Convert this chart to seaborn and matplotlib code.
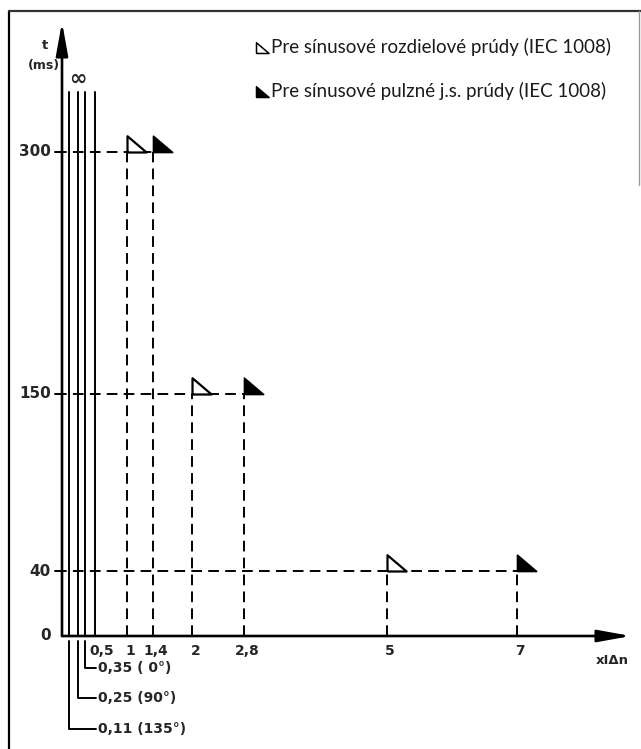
"""
rcd_trip_times.py
Tripping times of a residual current device vs. multiples of IΔn.
"""

import matplotlib
matplotlib.use("Agg")
import matplotlib.pyplot as plt
import numpy as np
import pandas as pd
import seaborn as sns

# ── Data ───────────────────────────────────────────────────────────────────────
TRIP_TIMES     = [300, 150, 40]                 # t (ms)
SINUS_MULT     = [1, 2, 5]                      # x IΔn, sinusoidal residual current
PULSE_MULT     = [1.4, 2.8, 7]                  # x IΔn, pulsating DC
NONTRIP_X      = [0.11, 0.25, 0.35, 0.5]        # no tripping (∞)
NONTRIP_TOP    = 337
X_TICKS        = [0.5, 1, 1.4, 2, 2.8, 5, 7]
X_TICKLABELS   = ["0,5", "1", "1,4", "2", "2,8", "5", "7"]
Y_TICKS        = [300, 150, 40, 0]
Y_TICKLABELS   = ["300", "150", "40", "0"]
ANGLE_X        = [0.35, 0.25, 0.11]
ANGLE_LABELS   = ["0,35 ( 0°)", "0,25 (90°)", "0,11 (135°)"]
LEGEND_LABELS  = ["Pre sínusové rozdielové prúdy (IEC 1008)",
                  "Pre sínusové pulzné j.s. prúdy (IEC 1008)"]

# ── Layout (pixel -> data) ─────────────────────────────────────────────────────
W, H   = 641, 749
X0, XS = 62, 65.0      # px of x=0, px per unit
T0, TS = 636, 1.615    # px of t=0, px per ms

def px(u):
    return (u - X0) / XS

def pt(v):
    return (T0 - v) / TS

TRI = [(0, 0), (0, 0.85), (1, 0), (0, 0)]
FONT = "DejaVu Sans"
LEG_FONT = "Lato"


def dashed_segments() -> pd.DataFrame:
    rows = []
    for i, (t, xs, xp) in enumerate(zip(TRIP_TIMES, SINUS_MULT, PULSE_MULT)):
        rows += [(f"h{i}", px(56), t), (f"h{i}", xp, t)]
        rows += [(f"s{i}", xs, 0), (f"s{i}", xs, t)]
        rows += [(f"p{i}", xp, 0), (f"p{i}", xp, t)]
    return pd.DataFrame(rows, columns=["seg", "x", "t"])


def solid_segments() -> pd.DataFrame:
    rows = []
    for i, x in enumerate(NONTRIP_X):
        rows += [(i, x, 0), (i, x, NONTRIP_TOP)]
    return pd.DataFrame(rows, columns=["seg", "x", "t"])


def main() -> None:
    sns.set_theme(style="white")
    plt.rcParams["font.family"] = [FONT]

    fig = plt.figure(figsize=(W / 100, H / 100), dpi=100)
    ax = fig.add_axes([0, 0, 1, 1])
    ax.set_xlim(px(0), px(W))
    ax.set_ylim(pt(H), pt(0))
    ax.axis("off")

    # dashed guide lines
    sns.lineplot(data=dashed_segments(), x="x", y="t", units="seg", estimator=None,
                 sort=False, color="black", lw=1.4, linestyle=(0, (5.5, 3.2)), ax=ax)
    # non-tripping lines
    sns.lineplot(data=solid_segments(), x="x", y="t", units="seg", estimator=None,
                 sort=False, color="black", lw=1.4, ax=ax)

    # triangles
    sns.scatterplot(x=SINUS_MULT, y=TRIP_TIMES, marker=TRI, s=760, color="white",
                    edgecolor="black", linewidth=1.6, zorder=5, ax=ax)
    sns.scatterplot(x=PULSE_MULT, y=TRIP_TIMES, marker=TRI, s=760, color="black",
                    edgecolor="black", linewidth=1.2, zorder=5, ax=ax)

    # axes with arrows
    arrow = dict(arrowstyle="-|>,head_length=1.0,head_width=0.18", mutation_scale=20,
                 lw=1.9, color="black", shrinkA=0, shrinkB=0)
    ax.annotate("", xy=(0, pt(22)), xytext=(0, 0), arrowprops=arrow)
    ax.annotate("", xy=(px(631), 0), xytext=(0, 0), arrowprops=arrow)

    # y ticks
    for t, lab in zip(Y_TICKS, Y_TICKLABELS):
        ax.text(px(51), t, lab, ha="right", va="center", fontsize=11, fontweight="bold")
        if t > 0:
            ax.plot([px(55), 0], [t, t], color="black", lw=1.4)

    # x ticks
    for x, lab in zip(X_TICKS, X_TICKLABELS):
        if lab == "0,5":
            ax.text(px(89), pt(651), lab, ha="left", va="center", fontsize=10, fontweight="bold")
        else:
            ax.text(x + 0.05, pt(651), lab, ha="center", va="center", fontsize=10, fontweight="bold")

    # angle leaders
    for x, lab, yy in zip(ANGLE_X, ANGLE_LABELS, [668, 698, 729]):
        ax.plot([x, x, px(96)], [pt(641), pt(yy), pt(yy)], color="black", lw=1.4)
        ax.text(px(98), pt(yy), lab, ha="left", va="center", fontsize=10, fontweight="bold")

    # axis labels
    ax.text(px(45), pt(45), "t", ha="center", va="center", fontsize=9.5, fontweight="bold")
    ax.text(px(44), pt(65), "(ms)", ha="center", va="center", fontsize=9, fontweight="bold")
    ax.text(px(78), pt(79), "∞", ha="center", va="center", fontsize=15, fontweight="bold")
    ax.text(px(596), pt(661), "xIΔn", ha="left", va="center", fontsize=9.5, fontweight="bold")

    # legend
    for i, (lab, fc) in enumerate(zip(LEGEND_LABELS, ["white", "black"])):
        yy = 47 + 44 * i
        ax.scatter([px(256)], [pt(yy + 6)], marker=TRI, s=330, color=fc,
                   edgecolor="black", linewidth=1.1, zorder=5)
        ax.text(px(271), pt(yy), lab, ha="left", va="center", fontsize=13.5,
                family=[LEG_FONT, FONT], color="#1a1a1a")

    # frame
    ax.plot([px(9), px(9)], [pt(11), pt(H)], color="black", lw=1.6)
    ax.plot([px(9), px(641)], [pt(11), pt(11)], color="#333333", lw=1.6)
    ax.plot([px(639), px(639)], [pt(11), pt(185)], color="#999999", lw=1.0)

    fig.savefig("out.png", dpi=100)
    plt.close(fig)


if __name__ == "__main__":
    main()
